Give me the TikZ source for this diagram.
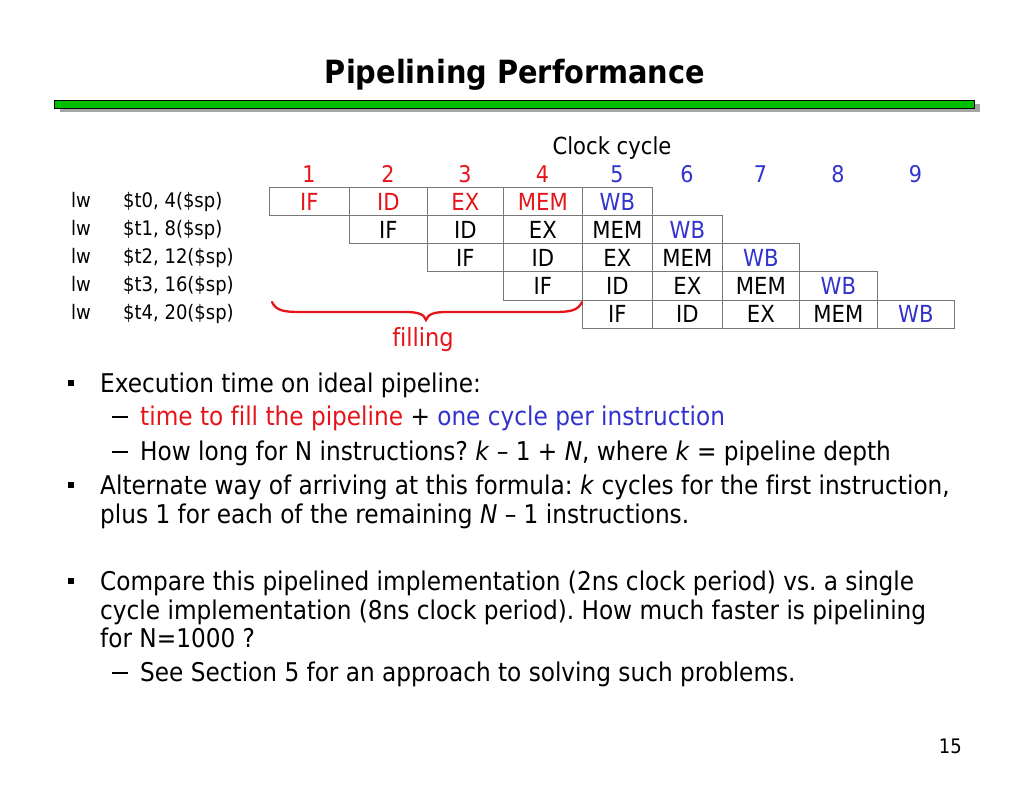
\documentclass[tikz,border=0pt]{standalone}
\usepackage{fontspec}
\setmainfont{DejaVu Sans Condensed}[Ligatures=NoCommon]
\definecolor{pred}{RGB}{230,20,25}
\definecolor{pblue}{RGB}{50,50,205}
\definecolor{pgreen}{RGB}{0,190,0}
\definecolor{pshadow}{RGB}{165,165,165}
\definecolor{pgrid}{RGB}{120,120,120}
\newcommand{\sdash}{\rule[7.5pt]{16pt}{1.3pt}\hspace{12pt}}
\tikzset{
  txt/.style={anchor=base west, inner sep=0pt, font=\fontsize{25.8}{30}\selectfont},
  lbl/.style={anchor=base west, inner sep=0pt, font=\fontsize{20}{24}\selectfont},
  num/.style={anchor=base, inner sep=0pt, font=\fontsize{23}{26}\selectfont},
  cell/.style={draw=pgrid, line width=0.8pt, inner sep=0pt, anchor=north west,
    minimum height=28pt, text height=17pt, text depth=0pt, font=\fontsize{23.5}{26}\selectfont},
  bul/.style={fill=black, minimum size=6.5pt, inner sep=0pt},
}
\begin{document}
\frenchspacing
\begin{tikzpicture}[x=1pt,y=-1pt]
\useasboundingbox (0,0) rectangle (1024,791);
% title
\node[anchor=base, inner sep=0pt, font=\fontsize{32}{38}\selectfont\bfseries] (title) at (515,84) {Pipelining Performance};
% bar
\fill[pshadow] (60,104) rectangle (980,112);
\draw[fill=pgreen, line width=0.8pt] (54,100) rectangle (974,108);
% clock cycle
\node[anchor=base, inner sep=0pt, font=\fontsize{23.5}{26}\selectfont] (clk) at (612,155) {Clock cycle};
% column numbers
\foreach \n/\x/\c in {1/309/pred,2/388/pred,3/465/pred,4/542.5/pred,5/617/pblue,6/687/pblue,7/760.5/pblue,8/838/pblue,9/915.5/pblue}{
  \node[num, text=\c] (n\n) at (\x,183) {\n};
}
% instruction labels
\foreach \r/\t in {0/{\$t0, 4(\$sp)},1/{\$t1, 8(\$sp)},2/{\$t2, 12(\$sp)},3/{\$t3, 16(\$sp)},4/{\$t4, 20(\$sp)}}{
  \pgfmathsetmacro\yb{207.5+28*\r}
  \node[lbl] (op\r) at (71,\yb) {lw};
  \node[lbl] (arg\r) at (123,\yb) {\t};
}
% pipeline cells
\foreach \r in {0,...,4}{
  \foreach \s [count=\k from 0] in {IF,ID,EX,MEM,WB}{
    \pgfmathtruncatemacro\c{\r+\k}
    \pgfmathsetmacro\xl{{269,349,427,503,582,652,722,799,877,954}[\c]}
    \pgfmathsetmacro\xr{{269,349,427,503,582,652,722,799,877,954}[\c+1]}
    \pgfmathsetmacro\yt{187.5+28*\r}
    \def\col{black}
    \ifnum\r=0 \def\col{pred}\fi
    \ifnum\k=4 \def\col{pblue}\fi
    \node[cell, text=\col, minimum width={\xr pt-\xl pt}] (c\r\k) at (\xl,\yt) {\s};
  }
}
% brace
\draw[pred, line width=2.3pt, line cap=round]
  (272,302) .. controls (276,311) and (285,312) .. (300,312)
  -- (405,312) .. controls (418,312) and (424,314) .. (426,320)
  .. controls (428,314) and (434,312) .. (447,312)
  -- (554,312) .. controls (569,312) and (578,311) .. (582,302);
\node[anchor=base, inner sep=0pt, text=pred, font=\fontsize{25}{28}\selectfont] (fill) at (423,346) {filling};
% bullets
\node[bul] (b1) at (71,383) {};
\node[txt] (t1) at (100,392) {Execution time on ideal pipeline:};
\node[txt] (t1a) at (112,425) {\sdash\textcolor{pred}{time to fill the pipeline} + \textcolor{pblue}{one cycle per instruction}};
\node[txt] (t1b) at (112,460) {\sdash How long for N instructions? \textit{k} – 1 + \textit{N}, where \textit{k} = pipeline depth};
\node[bul] (b2) at (71,485) {};
\node[txt] (t2) at (100,494) {Alternate way of arriving at this formula: \textit{k} cycles for the first instruction,};
\node[txt] (t2b) at (100,523) {plus 1 for each of the remaining \textit{N} – 1 instructions.};
\node[bul] (b3) at (71,581) {};
\node[txt] (t3) at (100,590) {Compare this pipelined implementation (2ns clock period) vs. a single};
\node[txt] (t3b) at (100,619) {cycle implementation (8ns clock period). How much faster is pipelining};
\node[txt] (t3c) at (100,647) {for N=1000 ?};
\node[txt] (t3d) at (112,681) {\sdash See Section 5 for an approach to solving such problems.};
% page number
\node[anchor=base east, inner sep=0pt, font=\fontsize{20}{24}\selectfont] (pg) at (962,753) {15};
\end{tikzpicture}
\end{document}
